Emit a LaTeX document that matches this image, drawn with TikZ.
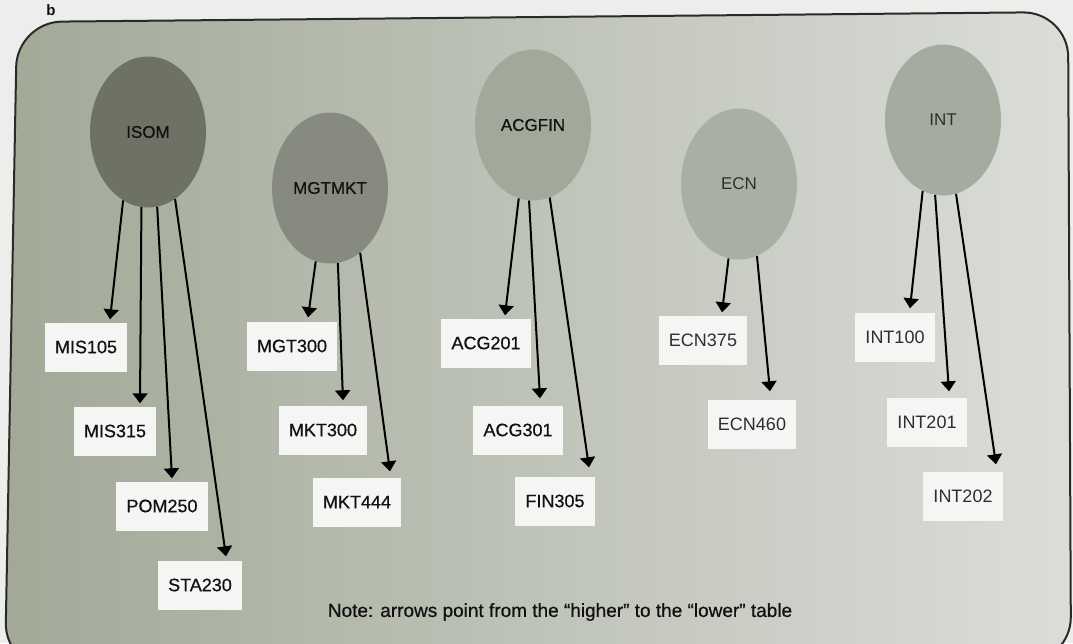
\documentclass[tikz,border=0pt]{standalone}
\usepackage{fontspec}
\setmainfont{Liberation Sans}
\newfontfamily\heavyfont[FakeBold=0.6,Ligatures=TeX]{Liberation Sans}
\usetikzlibrary{arrows.meta,shapes.geometric,calc}

\definecolor{paper}{HTML}{EDEDEB}
\definecolor{bgL}{HTML}{A2A997}
\definecolor{bgM}{HTML}{BDC1B5}
\definecolor{bgR}{HTML}{DBDDD9}
\definecolor{frameC}{HTML}{2A2A2A}
\definecolor{cIsom}{HTML}{6D7265}
\definecolor{cMgt}{HTML}{878B7F}
\definecolor{cAcg}{HTML}{A1A99A}
\definecolor{cEcn}{HTML}{A8B0A4}
\definecolor{cInt}{HTML}{A4AB9F}
\definecolor{boxC}{HTML}{F5F6F3}
\definecolor{inkC}{HTML}{111111}
\definecolor{greyInk}{HTML}{2E2E2E}

\tikzset{
  group/.style={ellipse, minimum width=116pt, minimum height=151pt, inner sep=0pt,
    draw=none, text=inkC, font=\heavyfont\fontsize{17}{19}\selectfont},
  lightgroup/.style={group, text=greyInk, font=\fontsize{17}{19}\selectfont},
  table/.style={rectangle, fill=boxC, inner xsep=10pt, minimum height=49pt,
    text=inkC, font=\heavyfont\fontsize{18}{20}\selectfont},
  lighttable/.style={table, text=greyInk, font=\fontsize{18}{20}\selectfont},
  arr/.style={draw=black, line width=2pt, -{Triangle[width=15pt,length=10pt]}},
}

\begin{document}
\begin{tikzpicture}[x=1pt,y=-1pt]
\useasboundingbox (0,0) rectangle (1073,643);
\clip (0,0) rectangle (1073,643);
\fill[paper] (0,0) rectangle (1073,643);

% panel letter
\node[font=\bfseries\fontsize{15}{17}\selectfont, text=inkC, anchor=base] (plabel) at (51,15) {b};

% rounded panel
\shade[left color=bgL, middle color=bgM, right color=bgR, rounded corners=45pt]
  (17,22) -- (1068,12) -- (1071,662) -- (5,668) -- cycle;
\draw[frameC, line width=2pt, rounded corners=45pt]
  (17,22) -- (1068,12) -- (1071,662) -- (5,668) -- cycle;

% groups
\node[group, fill=cIsom] (isom) at (148,132) {ISOM};
\node[group, fill=cMgt]  (mgt)  at (330,188) {MGTMKT};
\node[group, fill=cAcg]  (acg)  at (533,125) {ACGFIN};
\node[lightgroup, fill=cEcn] (ecn) at (739,184) {ECN};
\node[lightgroup, fill=cInt] (int) at (943,120) {INT};

% tables
\node[table] (mis105) at (86,347)  {MIS105};
\node[table] (mis315) at (115,431) {MIS315};
\node[table] (pom250) at (162,506) {POM250};
\node[table] (sta230) at (200,585) {STA230};

\node[table] (mgt300) at (292,346) {MGT300};
\node[table] (mkt300) at (323,430) {MKT300};
\node[table] (mkt444) at (357,502) {MKT444};

\node[table] (acg201) at (486,343) {ACG201};
\node[table] (acg301) at (518,430) {ACG301};
\node[table] (fin305) at (555,501) {FIN305};

\node[lighttable] (ecn375) at (703,340) {ECN375};
\node[lighttable] (ecn460) at (752,424) {ECN460};

\node[lighttable] (int100) at (895,337) {INT100};
\node[lighttable] (int201) at (927,422) {INT201};
\node[lighttable] (int202) at (963,496) {INT202};

% arrows from the higher to the lower table
\draw[arr] (isom.-110) -- ($(mis105.north)+(24,-3)$);
\draw[arr] (isom.-95)  -- ($(mis315.north)+(25,-3)$);
\draw[arr] (isom.-83)  -- ($(pom250.north)+(10,-3)$);
\draw[arr] (isom.-68)  -- ($(sta230.north)+(26,-4)$);

\draw[arr] (mgt.-101) -- ($(mgt300.north)+(16,-4)$);
\draw[arr] (mgt.-84)  -- ($(mkt300.north)+(20,-5)$);
\draw[arr] (mgt.-65)  -- ($(mkt444.north)+(33,-6)$);

\draw[arr] (acg.-101) -- ($(acg201.north)+(19,-3)$);
\draw[arr] (acg.-93)  -- ($(acg301.north)+(22,-7)$);
\draw[arr] (acg.-77)  -- ($(fin305.north)+(34,-9)$);

\draw[arr] (ecn.-98) -- ($(ecn375.north)+(19,-3)$);
\draw[arr] (ecn.-76) -- ($(ecn460.north)+(18,-8)$);

\draw[arr] (int.-106) -- ($(int100.north)+(15,-4)$);
\draw[arr] (int.-96)  -- ($(int201.north)+(22,-6)$);
\draw[arr] (int.-80)  -- ($(int202.north)+(33,-7)$);

% footnote
\node[text=inkC, font=\heavyfont\fontsize{19}{21}\selectfont] (note) at (560,612)
  {Note: arrows point from the “higher” to the “lower” table};
\end{tikzpicture}
\end{document}
